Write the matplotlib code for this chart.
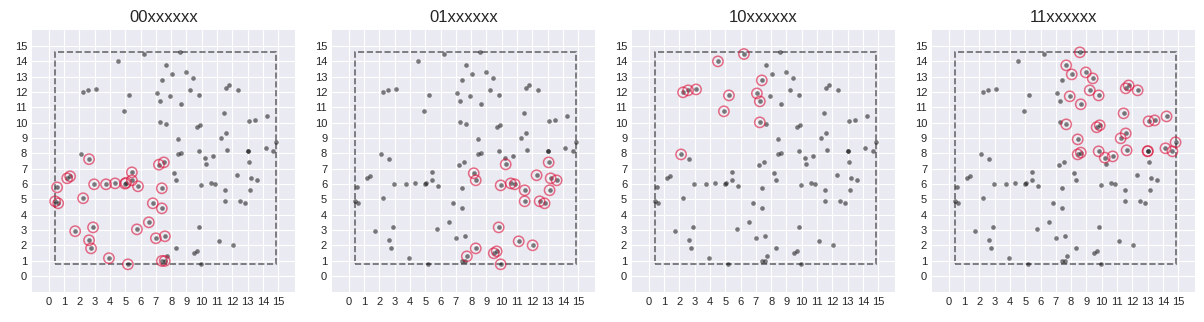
import numpy as np
import matplotlib
matplotlib.use("Agg")
import matplotlib.pyplot as plt
from matplotlib.patches import Rectangle

plt.style.use("seaborn-v0_8-darkgrid")

# point cloud (x, y)
xs = [0.41, 0.61, 0.54, 1.20, 1.39, 2.63, 2.96, 3.74, 4.33, 4.98, 5.05,
      5.43, 5.43, 5.83, 2.24, 1.72, 2.89, 2.63, 2.76, 3.93, 5.17, 5.76,
      6.54, 6.80, 7.39, 7.39, 7.00, 7.59, 7.39, 7.58, 7.20, 7.52,
      7.72, 8.30, 9.48, 9.67, 9.93, 9.80, 11.11, 12.02, 8.17, 8.30, 9.93,
      10.59, 10.85, 11.50, 11.50, 12.48, 12.80, 13.13, 13.20, 13.59, 12.28,
      13.07, 10.26,
      2.11, 2.24, 2.57, 3.09, 4.52, 6.22, 5.24, 4.91, 7.07, 7.26, 7.39, 7.26,
      7.68, 8.04, 8.96, 9.41, 8.57, 7.91, 9.22, 9.80, 8.63, 11.57, 11.76,
      12.35, 11.43, 7.68, 9.67, 9.87, 13.07, 13.46, 14.24, 8.43, 11.24,
      11.57, 14.83, 8.43, 8.63, 9.80, 10.20, 10.72, 11.63, 13.00, 13.02,
      14.17, 14.63]
ys = [4.87, 4.74, 5.78, 6.37, 6.50, 7.62, 5.98, 5.98, 6.04, 6.02, 6.08,
      6.76, 6.24, 5.85, 5.07, 2.92, 3.17, 2.33, 1.80, 1.16, 0.76, 3.04,
      3.50, 4.74, 5.72, 4.41, 2.46, 2.59, 0.98, 0.98, 7.26, 7.41,
      1.28, 1.80, 1.48, 1.61, 0.76, 3.17, 2.26, 2.00, 6.70, 6.24, 5.91,
      6.04, 5.98, 5.59, 4.87, 4.87, 4.74, 5.59, 6.37, 6.24, 6.57,
      7.41, 7.28,
      7.93, 11.98, 12.11, 12.17, 14.00, 14.48, 11.78, 10.74, 11.91, 11.39,
      12.76, 10.02,
      13.74, 13.15, 13.28, 12.89, 14.59, 11.72, 12.11, 11.78, 11.20, 12.24,
      12.43, 12.11, 10.61, 9.89, 9.70, 9.83, 10.09, 10.15, 10.41, 8.91,
      8.98, 9.30, 8.72, 7.93, 8.05, 8.13, 7.72, 7.80, 8.20, 8.13, 8.15,
      8.33, 8.13]

titles = ["00xxxxxx", "01xxxxxx", "10xxxxxx", "11xxxxxx"]
ticks = list(range(16))

xs = np.array(xs)
ys = np.array(ys)
x0, x1 = xs.min(), xs.max()
y0, y1 = ys.min(), ys.max()
xm, ym = (x0 + x1) / 2, (y0 + y1) / 2
# first bit: upper half, second bit: right half
codes = (ys > ym).astype(int) * 2 + (xs > xm).astype(int)

fig, axes = plt.subplots(1, 4, figsize=(12.04, 3.22), dpi=100)
plt.subplots_adjust(left=0.0266, right=0.9925, bottom=0.093, top=0.907, wspace=0.1407)

for i, ax in enumerate(axes):
    ax.scatter(xs, ys, s=11, c="k", alpha=0.5, linewidths=0, zorder=3)
    sel = codes == i
    ax.scatter(xs[sel], ys[sel], s=55, facecolors="none", edgecolors="crimson",
               linewidths=1.1, alpha=0.6, zorder=4)
    ax.add_patch(Rectangle((x0, y0), x1 - x0, y1 - y0, fill=False,
                           edgecolor="k", alpha=0.55, linestyle="--", linewidth=1.2, zorder=2))
    ax.set_xlim(-1.1, 16.1)
    ax.set_ylim(-1.05, 16.05)
    ax.set_xticks(ticks)
    ax.set_yticks(ticks)
    ax.tick_params(labelsize=8)
    ax.set_title(titles[i], fontsize=12)

plt.savefig("out.png")
